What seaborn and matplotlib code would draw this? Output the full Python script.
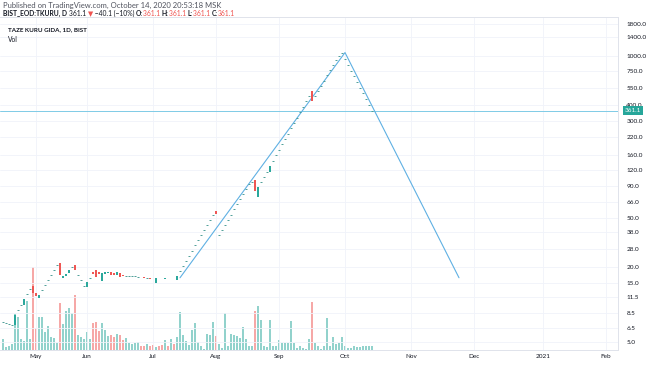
import matplotlib
matplotlib.use("Agg")
import matplotlib.pyplot as plt
import seaborn as sns
import numpy as np
import pandas as pd

# ---- data --------------------------------------------------------------
holidays = ["2020-04-23", "2020-05-01", "2020-05-19", "2020-05-25", "2020-05-26",
            "2020-07-15", "2020-07-31"]
first_day, last_day, axis_end = "2020-04-15", "2020-10-14", "2021-02-10"

opens = [7.3, 7.1, 7.0, 6.9, 6.9, 9.1, 10.0, 10.0, 12.1, 13.3,
         14.0, 12.3, 11.2, 13.1, 14.4, 15.8, 17.3, 19.0, 20.9, 21.5,
         16.2, 16.8, 18.0, 19.9, 20.9, 17.2, 15.6, 14.1, 13.8, 16.4,
         18.2, 19.0, 18.4, 15.4, 17.5, 17.9, 18.4, 18.0, 17.3, 17.9,
         17.3, 17.1, 17.0, 16.9, 16.8, 16.7, 16.7, 16.5, 16.3, 16.3,
         16.1, 14.9, 16.1, 16.0, 16.1, 16.3, 16.2, 16.4, 15.8, 18.5,
         20.3, 22.4, 24.6, 27.1, 29.8, 32.8, 36.1, 39.7, 43.6, 48.0,
         52.8, 56.0, 36.0, 39.6, 43.6, 47.9, 52.7, 58.0, 63.8, 70.2,
         77.2, 84.9, 93.4, 97.0, 99.5, 73.0, 95.7, 105.3, 116.0, 117.0,
         143, 158, 175, 193, 213, 235, 260, 287, 317, 350,
         387, 428, 472, 520, 473, 520, 572, 629, 692, 761,
         837, 921, 990, 1040, 936, 842, 758, 682, 614, 553,
         497, 446, 401.2, 361.1]
closes = [7.3, 7.1, 7.0, 6.9, 8.3, 9.1, 10.0, 11.0, 12.1, 13.3,
          12.3, 11.6, 11.9, 13.1, 14.4, 15.8, 17.3, 19.0, 20.9, 17.4,
          16.9, 17.6, 19.0, 19.9, 18.8, 17.2, 15.6, 14.1, 15.2, 16.4,
          17.6, 16.5, 17.6, 17.9, 18.3, 18.2, 17.2, 17.4, 18.1, 16.5,
          17.0, 17.1, 17.0, 16.9, 16.8, 16.7, 16.5, 16.3, 16.3, 16.1,
          15.9, 16.2, 16.0, 15.9, 16.3, 16.2, 16.4, 16.3, 16.8, 18.5,
          20.3, 22.4, 24.6, 27.1, 29.8, 32.8, 36.1, 39.7, 43.6, 48.0,
          52.8, 53.2, 36.0, 39.6, 43.6, 47.9, 52.7, 58.0, 63.8, 70.2,
          77.2, 84.9, 93.4, 97.0, 81.5, 87.5, 95.7, 105.3, 116.0, 128.5,
          143, 158, 175, 193, 213, 235, 260, 287, 317, 350,
          387, 428, 472, 430, 473, 520, 572, 629, 692, 761,
          837, 921, 990, 1040, 936, 842, 758, 682, 614, 553,
          497, 446, 401.2, 361.1]
volumes = [11, 3, 4, 6, 36, 33, 11, 9, 49, 11,
           83, 22, 33, 33, 18, 24, 13, 12, 7, 47,
           26, 39, 42, 37, 55, 15, 13, 11, 18, 11,
           27, 28, 19, 27, 20, 14, 15, 13, 16, 15,
           10, 12, 7, 6, 7, 8, 4, 4, 6, 4,
           5, 3, 4, 5, 10, 4, 11, 6, 13, 38,
           15, 9, 5, 20, 27, 8, 4, 1, 16, 15,
           28, 14, 6, 2, 37, 4, 16, 15, 14, 12,
           23, 11, 4, 4, 39, 44, 30, 4, 3, 30,
           4, 4, 10, 7, 7, 7, 29, 7, 2, 4,
           2, 1, 11, 48, 7, 4, 1, 4, 32, 4,
           13, 6, 7, 13, 4, 2, 2, 4, 3, 3,
           4, 4, 4, 4]

# user drawn trend line
trend_dates = ["2020-07-14", "2020-10-01", "2020-11-24"]
trend_values = [16.4, 1057.0, 16.4]

price_ticks = [5.0, 6.5, 8.5, 11.5, 15.0, 20.0, 28.0, 38.0, 50.0, 66.0, 90.0,
               120.0, 160.0, 220.0, 300.0, 400.0, 550.0, 750.0, 1000.0, 1400.0, 1800.0]
last_price = 361.1

# ---- bar index axis (trading days, then plain weekdays in the future) ---
past = pd.bdate_range(first_day, last_day).drop(pd.to_datetime(holidays))
future = pd.bdate_range(pd.Timestamp(last_day) + pd.Timedelta(days=1), axis_end)
dates = past.append(future)
df = pd.DataFrame({"date": past, "open": opens, "close": closes, "volume": volumes})
df["x"] = np.arange(len(df))
df["up"] = df["close"] >= df["open"]

months = pd.Series(np.arange(len(dates)), index=dates)
month_pos = months.groupby([dates.year, dates.month]).first()
month_pos = month_pos[month_pos.index.map(lambda k: k != (2020, 4))]
month_labels = [str(y) if m == 1 else pd.Timestamp(year=y, month=m, day=1).strftime("%b")
                for y, m in month_pos.index]

UP, DOWN = "#26a69a", "#ef5350"

sns.set_theme(style="white")
plt.rcParams["font.family"] = ["Lato", "DejaVu Sans"]

fig = plt.figure(figsize=(6.54, 3.66), dpi=100)
ax = fig.add_axes([0.0, 16 / 366, 618 / 654, 333 / 366])
ax2 = ax.twinx()

# volume pane (behind the price)
ax2.bar(df["x"], df["volume"], width=0.75,
        color=np.where(df["up"], UP, DOWN), alpha=0.5, linewidth=0)
ax2.set_ylim(0, 333)
ax2.set_yticks([])
ax.set_zorder(ax2.get_zorder() + 1)
ax.patch.set_visible(False)

# candles
flat = df["open"] == df["close"]
body = df[~flat]
ax.vlines(body["x"], body[["open", "close"]].min(axis=1), body[["open", "close"]].max(axis=1),
          colors=np.where(body["up"], UP, DOWN), linewidth=1.4, zorder=4)
dash = df[flat]
ax.hlines(dash["close"], dash["x"] - 0.3, dash["x"] + 0.3, colors="#4f9f98", linewidth=0.7, zorder=4)

# trend line drawing and last price line
trend = pd.DataFrame({"x": [dates.get_loc(pd.Timestamp(d)) for d in trend_dates], "y": trend_values})
sns.lineplot(data=trend, x="x", y="y", ax=ax, color="#5fb0e3", linewidth=0.8, sort=False, zorder=3)
ax.axhline(last_price, color="#7fcbe6", linewidth=0.7, zorder=2)

ax.set_yscale("log")
ax.set_ylim(4.31, 2041)
ax.set_xlim(-1, 205)
ax.set_yticks(price_ticks)
ax.set_yticklabels([f"{t:.1f}" for t in price_ticks])
ax.minorticks_off()
ax.yaxis.tick_right()
ax.set_xticks(month_pos.values)
ax.set_xticklabels(month_labels)
ax.tick_params(axis="y", length=0, pad=6, labelsize=4.6, labelcolor="#131722")
ax.tick_params(axis="x", length=0, pad=3, labelsize=4.6, labelcolor="#131722")
ax.grid(True, color="#f0f3fa", linewidth=0.6)
ax.set_xlabel("")
ax.set_ylabel("")
for sp in list(ax.spines.values()) + list(ax2.spines.values()):
    sp.set_color("#e0e3eb")
    sp.set_linewidth(0.7)
ax.spines["left"].set_visible(False)
ax2.spines["left"].set_visible(False)

ax.text(1.011, last_price, "361.1", transform=ax.get_yaxis_transform(), ha="left", va="center",
        fontsize=4.6, color="white", zorder=10, clip_on=False,
        bbox=dict(boxstyle="square,pad=0.35", fc=UP, ec="none"))

# headers
fig.text(3 / 654, 1 - 5 / 366, "Published on TradingView.com, October 14, 2020 20:53:18 MSK",
         fontsize=5.5, color="#50535e", va="center")

renderer = fig.canvas.get_renderer()
parts = [("BIST_EOD:TKURU, D ", "#131722", "bold"), ("361.1 ", "#131722", "normal"),
         ("▼", DOWN, "normal"), (" −40.1 (−10%) ", "#131722", "normal"),
         ("O:", "#131722", "bold"), ("361.1 ", DOWN, "normal"),
         ("H:", "#131722", "bold"), ("361.1 ", DOWN, "normal"),
         ("L:", "#131722", "bold"), ("361.1 ", DOWN, "normal"),
         ("C:", "#131722", "bold"), ("361.1", DOWN, "normal")]
xp = 3
for s, col, w in parts:
    t = fig.text(xp / 654, 1 - 13.5 / 366, s, fontsize=4.9, color=col, fontweight=w, va="center")
    xp = t.get_window_extent(renderer=renderer).x1

fig.text(8 / 654, 1 - 30 / 366, "TAZE KURU GIDA, 1D, BIST", fontsize=4.5, fontweight="bold",
         color="#131722", va="center")
fig.text(8 / 654, 1 - 40 / 366, "Vol", fontsize=4.8, color="#131722", va="center")

fig.savefig("out.png", dpi=100)
